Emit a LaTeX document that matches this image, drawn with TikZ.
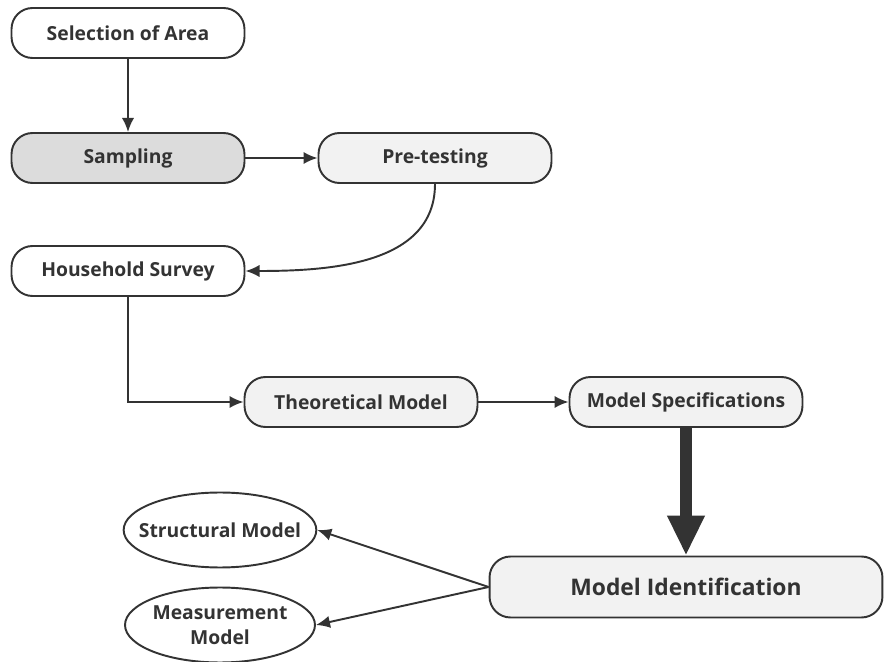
\documentclass[tikz,border=0pt]{standalone}
\usepackage{fontspec}
\setmainfont{Open Sans}
\usetikzlibrary{arrows.meta,shapes}

\definecolor{linegray}{HTML}{333333}
\definecolor{boxfill}{HTML}{F2F2F2}
\definecolor{darkfill}{HTML}{DCDCDC}

\begin{document}
\begin{tikzpicture}[x=0.02cm, y=-0.02cm, auto,
  box/.style={draw=linegray, line width=1.1pt, rounded corners=0.42cm,
    minimum width=4.66cm, minimum height=1cm, text=linegray,
    font=\fontsize{11}{13}\selectfont\bfseries},
  oval/.style={draw=linegray, line width=1.1pt, ellipse, align=center,
    minimum width=3.8cm, minimum height=1.5cm, inner xsep=-0.26cm, inner ysep=0pt,
    text=linegray, font=\fontsize{11}{14}\selectfont\bfseries},
  arr/.style={draw=linegray, line width=1.1pt, -{Latex[length=8pt,width=7pt]}},
]

\useasboundingbox (0,0) rectangle (887,662);

% data collection
\node[box] (area) at (128,33) {Selection of Area};
\node[box, fill=darkfill] (sampling) at (128,158) {Sampling};
\node[box, fill=boxfill] (pretest) at (435,158) {Pre-testing};
\node[box] (survey) at (128,271) {Household Survey};

% modelling
\node[box, fill=boxfill] (theory) at (361,402) {Theoretical Model};
\node[box, fill=boxfill] (spec) at (686,402) {Model Specifications};
\node[box, fill=boxfill, minimum width=7.86cm, minimum height=1.22cm,
  font=\fontsize{13}{15}\selectfont\bfseries] (ident) at (686,587) {Model Identification};

\node[oval] (structural) at (220,530) {Structural Model};
\node[oval] (measure) at (220,625) {Measurement\\Model};

\draw[arr] (area) -- (sampling);
\draw[arr] (sampling) -- (pretest);
\draw[arr] (pretest.south) to[out=-90, in=0] (survey.east);
\draw[arr] (survey.south) |- (theory.west);
\draw[arr] (theory) -- (spec);
\draw[draw=linegray, line width=0.24cm, -{Triangle[length=0.8cm,width=0.7cm]}] (spec) -- (ident);

\draw[arr] (ident.west) -- (structural.east);
\draw[arr] (ident.west) -- (measure.east);

\end{tikzpicture}
\end{document}
